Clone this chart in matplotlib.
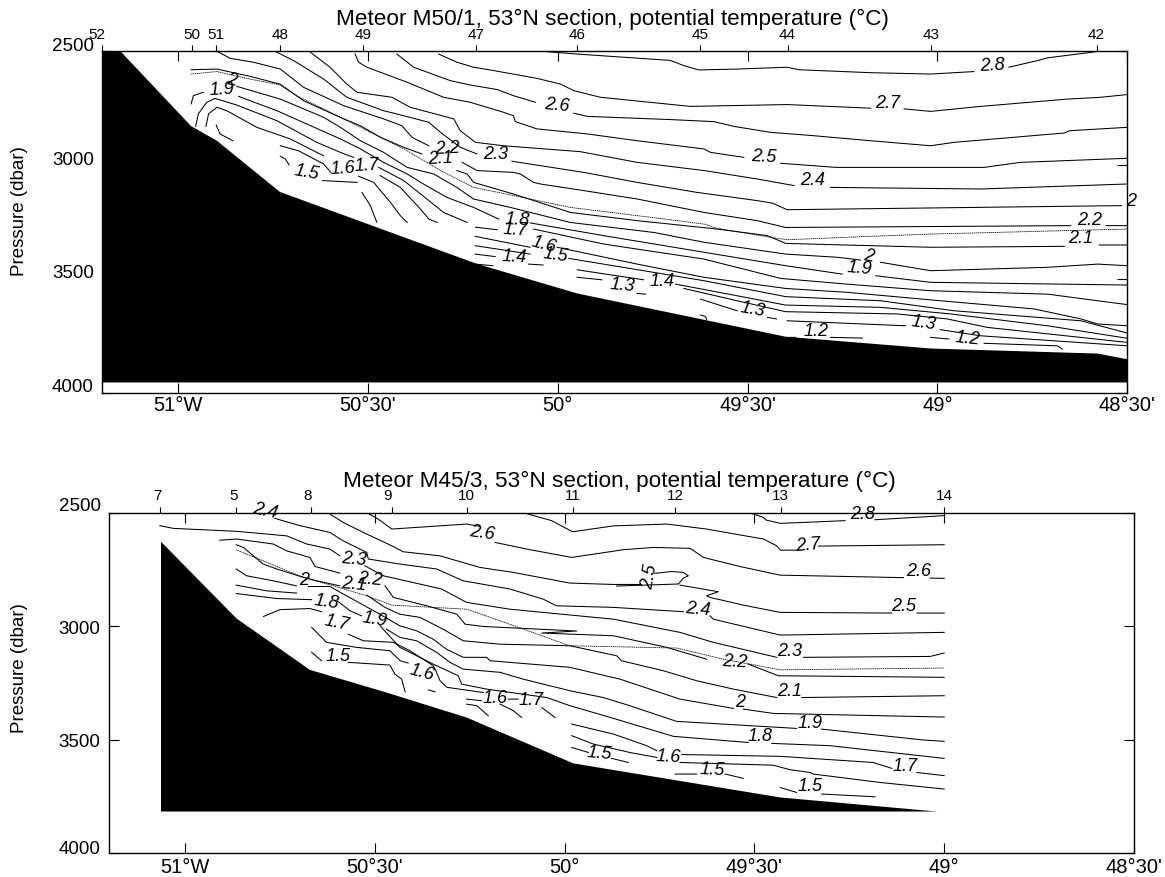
import matplotlib
matplotlib.use("Agg")
import matplotlib.pyplot as plt
import matplotlib.transforms as mtrans
import numpy as np

plt.rcParams["font.family"] = ["Liberation Sans", "DejaVu Sans"]

nan = np.nan

lon_ticks = [-51, -50.5, -50, -49.5, -49, -48.5]
lon_labels = ["51°W", "50°30'", "50°", "49°30'", "49°", "48°30'"]
p_ticks = [2500, 3000, 3500, 4000]

# Meteor M50/1 section
m50_station_lon = [-51.2, -50.965, -50.9, -50.732, -50.512, -50.215, -49.949, -49.625, -49.395, -49.016, -48.581]
m50_station_no = ["52", "50", "51", "48", "49", "47", "46", "45", "44", "43", "42"]
m50_bottom_lon = [-51.2, -51.152, -50.966, -50.899, -50.732, -50.215, -49.949, -49.4, -49.016, -48.579, -48.5, -48.5, -51.2]
m50_bottom_p = [2500, 2500, 2829, 2892, 3118, 3433, 3564, 3754, 3806, 3828, 3853, 3955, 3955]

m50_28_lon = [-50.033, -49.95, -49.704, -49.668, -49.629, -49.528, -49.396, -49.365, -49.176, -49.018, -48.904, nan, -48.812, -48.737, -48.711, -48.579]
m50_28_p = [2501, 2512, 2540, 2563, 2582, 2578, 2570, 2581, 2594, 2600, 2589, nan, 2570, 2541, 2529, 2501]
m50_27_lon = [-50.314, -50.266, -50.222, -50.178, -50.055, -49.993, -49.958, -49.888, -49.651, -49.396, -49.176, nan, -49.088, -49.018, -48.886, -48.658, -48.57, -48.5]
m50_27_p = [2512, 2548, 2570, 2582, 2619, 2644, 2673, 2702, 2742, 2734, 2750, nan, 2753, 2764, 2742, 2710, 2702, 2690]
m50_26_lon = [-50.424, -50.38, -50.283, -50.231, -50.16, -50.117, -50.059, nan, -49.958, -49.923, -49.703, -49.589, -49.536, -49.440, -49.325, -49.176, -49.018, -48.956, -48.666, -48.653, -48.5]
m50_26_p = [2512, 2570, 2629, 2648, 2668, 2695, 2724, nan, 2772, 2786, 2800, 2809, 2830, 2856, 2871, 2893, 2915, 2900, 2859, 2849, 2834]
m50_25_lon = [-50.534, -50.525, -50.503, -50.397, -50.301, -50.231, -50.143, -50.117, -50.112, -50.055, -49.923, -49.791, -49.615, -49.598, -49.51, nan, -49.413, -49.268, -48.877, -48.781, -48.5]
m50_25_p = [2512, 2548, 2570, 2636, 2702, 2724, 2768, 2783, 2809, 2841, 2863, 2893, 2929, 2944, 2966, nan, 2992, 3010, 3010, 2988, 2970]
m50_24_lon = [-50.652, -50.6, -50.556, -50.529, -50.437, -50.389, -50.274, -50.257, -50.217, -50.143, -49.941, -49.791, -49.615, -49.475, -49.378, nan, -49.282, -48.886, -48.5]
m50_24_p = [2504, 2570, 2644, 2680, 2702, 2746, 2797, 2849, 2900, 2915, 2941, 2988, 3024, 3061, 3090, nan, 3098, 3105, 3083]
m50_23_lon = [-50.745, -50.696, -50.617, -50.556, -50.459, -50.406, -50.34, -50.309, -50.257, -50.213, nan, -50.121, -49.932, -49.791, -49.633, -49.475, -49.435, -49.396, -48.515]
m50_23_p = [2500, 2541, 2622, 2702, 2761, 2783, 2812, 2856, 2922, 2951, nan, 2983, 3032, 3076, 3120, 3156, 3167, 3196, 3178]
m50_22_lon = [-50.898, -50.863, -50.802, -50.731, -50.67, -50.564, -50.459, -50.411, -50.384, -50.34, nan, -50.252, -50.213, -50.117, -50.099, -50.064, -50.046, -49.932, -49.791, -49.615, -49.475, -49.4, -48.649, nan, -48.556, -48.5]
m50_22_p = [2500, 2531, 2548, 2578, 2658, 2739, 2797, 2827, 2878, 2915, nan, 2988, 3024, 3032, 3039, 3076, 3083, 3112, 3149, 3208, 3244, 3274, 3266, nan, 3266, 3266]
m50_dash_lon = [-50.966, -50.898, -50.811, -50.732, -50.688, -50.564, -50.485, -50.397, -50.309, -50.222, -50.125, -49.967, -49.791, -49.615, -49.58, -49.44, -49.396, -49.176, -49.018, -48.5]
m50_dash_p = [2600, 2589, 2622, 2648, 2695, 2797, 2863, 2937, 3024, 3098, 3131, 3186, 3222, 3259, 3278, 3317, 3328, 3313, 3303, 3281]
m50_21_lon = [-50.966, -50.898, -50.811, -50.732, -50.67, -50.564, -50.52, -50.467, -50.406, -50.358, nan, -50.266, -50.239, -50.222, -50.117, -49.967, -49.791, -49.58, -49.448, -49.4, -49.018, -48.666, nan, -48.574, -48.5]
m50_21_p = [2581, 2578, 2610, 2644, 2717, 2797, 2827, 2878, 2922, 2951, nan, 3024, 3039, 3076, 3127, 3208, 3244, 3281, 3310, 3344, 3361, 3357, nan, 3351, 3351]
m50_20_lon = [-50.846, -50.731, -50.617, -50.573, -50.52, -50.459, -50.397, -50.327, -50.266, -50.222, -50.125, -49.967, -49.747, -49.615, -49.4, -49.264, -49.203, nan, -49.15, -49.018, -48.71, -48.578, -48.5]
m50_20_p = [2654, 2710, 2790, 2834, 2893, 2944, 3010, 3039, 3098, 3149, 3186, 3252, 3296, 3339, 3391, 3405, 3417, nan, 3427, 3464, 3449, 3435, 3442]
m50_19_lon = [-50.966, -50.96, -50.934, nan, -50.841, -50.74, -50.573, -50.52, -50.459, -50.397, -50.354, -50.292, -50.222, -50.156, nan, -50.073, -49.879, -49.615, -49.4, -49.251, nan, -49.163, -49.018, -48.5]
m50_19_p = [2731, 2695, 2680, nan, 2698, 2761, 2885, 2929, 2988, 3039, 3083, 3142, 3186, 3237, nan, 3254, 3310, 3383, 3442, 3479, nan, 3486, 3515, 3527]
m50_18_lon = [-50.954, -50.947, -50.925, -50.903, -50.846, -50.74, -50.635, -50.573, -50.538, nan, -50.472, -50.406, -50.345, -50.301, -50.239, nan, -50.064, -49.879, -49.615, -49.413, -49.238, -49.018, -48.71, -48.578, -48.5]
m50_18_p = [2830, 2775, 2724, 2707, 2736, 2805, 2900, 2944, 2966, nan, 3010, 3068, 3149, 3208, 3252, nan, 3281, 3347, 3413, 3498, 3523, 3552, 3567, 3596, 3613]
m50_17_lon = [-50.927, -50.92, -50.898, -50.872, -50.793, -50.705, -50.617, nan, -50.468, -50.415, -50.362, -50.34, -50.318, nan, -50.217, -50.16, nan, -50.002, -49.791, -49.615, -49.4, -49.238, -48.992, -48.745, -48.622, -48.578, -48.5]
m50_17_p = [2830, 2775, 2746, 2761, 2834, 2885, 2959, nan, 3046, 3098, 3193, 3237, 3252, nan, 3273, 3284, nan, 3361, 3435, 3493, 3542, 3559, 3596, 3632, 3676, 3698, 3706]
m50_16_lon = [-50.9, -50.89, -50.856, nan, -50.731, -50.683, -50.617, -50.598, nan, -50.525, -50.485, -50.441, -50.415, -50.397, nan, -50.218, -50.073, nan, -49.971, -49.774, -49.615, -49.4, -49.15, -48.956, -48.622, -48.5]
m50_16_p = [2824, 2863, 2893, nan, 2915, 2937, 2995, 3032, nan, 3049, 3076, 3164, 3222, 3252, nan, 3313, 3361, nan, 3410, 3464, 3508, 3578, 3596, 3640, 3684, 3738]
m50_15_lon = [-50.731, -50.718, -50.708, nan, -50.62, -50.529, nan, -50.516, -50.494, -50.477, nan, -50.218, -50.073, nan, -49.949, -49.774, nan, -49.69, -49.528, -49.4, -49.15, -48.965, -48.71, -48.5]
m50_15_p = [2961, 2973, 2999, nan, 3068, 3076, nan, 3120, 3178, 3251, nan, 3354, 3391, nan, 3460, 3504, nan, 3523, 3574, 3615, 3625, 3654, 3706, 3761]
m50_14_lon = [-50.218, -50.165, nan, -50.077, -50.039, nan, -49.668, -49.528, -49.4, -49.106, -48.974, -48.869, -48.5]
m50_14_p = [3391, 3402, nan, 3435, 3439, nan, 3542, 3596, 3644, 3654, 3676, 3713, 3779]
m50_13_lon = [-50.218, -50.171, nan, -49.949, -49.884, nan, -49.791, -49.769, nan, -49.624, -49.528, nan, -49.448, -49.424, nan, -49.396, -49.084, nan, -48.993, -48.886, -48.5]
m50_13_p = [3435, 3442, nan, 3493, 3504, nan, 3564, 3567, nan, 3589, 3640, nan, 3669, 3676, nan, 3684, 3706, nan, 3723, 3750, 3794]
m50_12_lon = [-49.391, -49.374, nan, -49.282, -49.198, nan, -49.018, -48.97, nan, -48.877, -48.684, -48.671, nan, -49.624, -49.611, -49.608]
m50_12_p = [3757, 3757, nan, 3757, 3760, nan, 3757, 3764, nan, 3783, 3794, 3808, nan, 3659, 3665, 3679]

m50_label_text = ["2", "1.9", "1.5", "1.6", "1.7", "2.2", "2.1", "2.3", "2.6", "1.8", "1.7", "1.6", "1.5", "1.4", "1.3", "1.4", "1.3", "1.2", "2.5", "2.4", "2.8", "2.7", "2", "2.2", "2.1", "2", "1.9", "1.3", "1.2"]
m50_label_lon = [-50.859, -50.885, -50.661, -50.567, -50.503, -50.292, -50.31, -50.165, -50.002, -50.108, -50.112, -50.037, -50.007, -50.116, -49.831, -49.725, -49.488, -49.321, -49.457, -49.33, -48.855, -49.132, -48.489, -48.6, -48.622, -49.181, -49.205, -49.036, -48.921]
m50_label_p = [2622, 2666, 3027, 3010, 2998, 2925, 2969, 2951, 2734, 3237, 3281, 3347, 3391, 3398, 3523, 3508, 3632, 3728, 2961, 3065, 2560, 2724, 3156, 3240, 3320, 3398, 3449, 3691, 3758]
m50_label_rot = [-10, 3, -10, 3, 3, 3, 3, 0, -5, -3, -3, -15, -8, -3, -5, 0, -10, 0, -3, 0, 3, 0, 0, 0, 0, -10, -5, -8, -6]

# Meteor M45/3 section
m45_station_lon = [-51.065, -50.865, -50.668, -50.455, -50.258, -49.979, -49.708, -49.431, -49.0]
m45_station_no = ["7", "5", "8", "9", "10", "11", "12", "13", "14"]
m45_bottom_lon = [-51.063, -50.864, -50.671, -50.469, -50.258, -49.977, -49.432, -49.02, -51.063]
m45_bottom_p = [2628, 2966, 3192, 3292, 3402, 3604, 3754, 3816, 3816]

m45_28_lon = [-49.512, -49.476, -49.468, -49.431, -49.261, nan, -49.182, -49.0]
m45_28_p = [2500, 2521, 2533, 2547, 2535, nan, 2531, 2513]
m45_27_lon = [-50.109, -50.034, -49.979, -49.871, -49.731, -49.626, -49.476, -49.441, -49.431, -49.38, nan, -49.331, -49.0]
m45_27_p = [2500, 2535, 2584, 2558, 2550, 2572, 2616, 2646, 2665, 2665, nan, 2647, 2641]
m45_26_lon = [-50.521, -50.491, -50.455, -50.258, -50.223, nan, -50.183, -50.091, -49.981, -49.845, -49.766, -49.669, -49.634, -49.538, -49.432, -49.107, nan, -49.037, -49.0]
m45_26_p = [2500, 2528, 2572, 2550, 2560, nan, 2631, 2663, 2697, 2663, 2653, 2657, 2697, 2737, 2775, 2786, nan, 2788, 2789]
m45_25_lon = [-50.618, -50.583, -50.53, -50.455, -50.425, -50.328, -50.223, -50.135, -49.986, -49.872, -49.801, nan, -49.762, -49.718, -49.687, -49.674, -49.687, -49.7, -49.863, nan, -49.696, -49.661, -49.595, -49.626, -49.617, -49.529, -49.432, -49.138, nan, -49.072, -49.0]
m45_25_p = [2506, 2543, 2587, 2646, 2672, 2690, 2741, 2763, 2810, 2816, 2816, nan, 2767, 2759, 2763, 2778, 2788, 2814, 2823, nan, 2819, 2829, 2848, 2866, 2873, 2907, 2939, 2942, nan, 2942, 2942]
m45_24_lon = [-50.763, -50.697, -50.618, -50.583, -50.521, -50.517, -50.434, -50.337, -50.267, -50.144, -50.056, -50.021, -49.871, -49.687, nan, -49.617, -49.608, -49.432, -49.0]
m45_24_p = [2525, 2557, 2587, 2624, 2675, 2704, 2726, 2748, 2800, 2836, 2881, 2910, 2917, 2936, nan, 2954, 2969, 3039, 3027]
m45_23_lon = [-51.066, -51.031, -50.864, -50.732, -50.679, -50.618, -50.592, nan, -50.526, -50.477, -50.324, -50.258, -50.144, -49.871, -49.696, -49.608, -49.441, nan, -49.371, -49.037, -49.0]
m45_23_p = [2557, 2569, 2582, 2602, 2638, 2660, 2690, nan, 2734, 2778, 2836, 2895, 2925, 2969, 3027, 3071, 3137, nan, 3137, 3133, 3118]
m45_22_lon = [-50.908, -50.864, -50.767, -50.732, -50.671, -50.657, -50.592, nan, -50.473, -50.451, -50.363, -50.284, -50.262, -50.214, -49.968, -50.06, -49.871, -49.731, -49.626, nan, -49.516, -49.437, -49.0]
m45_22_p = [2621, 2616, 2638, 2668, 2697, 2737, 2766, nan, 2822, 2873, 2910, 2947, 2991, 3001, 3021, 3030, 3042, 3093, 3145, nan, 3167, 3218, 3225]
m45_dash_lon = [-50.865, -50.794, -50.688, -50.609, -50.521, -50.455, -50.258, -50.17, -49.986, -49.705, -49.582, -49.432, -49.0]
m45_dash_p = [2663, 2712, 2785, 2822, 2866, 2907, 2925, 2976, 3086, 3096, 3145, 3192, 3184]
m45_21_lon = [-50.865, -50.846, -50.794, -50.758, -50.701, -50.653, -50.592, nan, -50.521, -50.473, -50.434, -50.381, -50.32, -50.267, -50.17, -49.986, -49.863, -49.85, -49.74, -49.652, -49.555, -49.441, nan, -49.375, -49.0]
m45_21_p = [2641, 2653, 2726, 2748, 2778, 2800, 2822, nan, 2863, 2917, 2947, 2961, 3013, 3064, 3079, 3086, 3130, 3152, 3196, 3240, 3277, 3314, nan, 3314, 3306]
m45_20_lon = [-50.865, -50.837, -50.767, -50.706, nan, -50.675, -50.618, -50.583, -50.495, -50.434, -50.39, -50.346, -50.311, -50.267, -50.205, -50.196, -49.986, -49.854, -49.696, -49.555, nan, -49.529, -49.45, -49.0]
m45_20_p = [2748, 2778, 2800, 2822, nan, 2825, 2825, 2858, 2939, 2998, 3020, 3057, 3101, 3137, 3137, 3152, 3181, 3233, 3321, 3362, nan, 3365, 3384, 3400]
m45_19_lon = [-50.865, -50.785, -50.706, nan, -50.469, -50.434, -50.39, -50.337, -50.302, -50.267, -50.17, -50.109, -49.986, -49.898, -49.828, -49.705, -49.389, nan, -49.323, -49.055, -49.0]
m45_19_p = [2819, 2844, 2854, nan, 3013, 3049, 3064, 3115, 3159, 3189, 3203, 3233, 3284, 3314, 3350, 3419, 3450, nan, 3453, 3501, 3507]
m45_18_lon = [-50.865, -50.758, -50.666, nan, -50.599, -50.565, -50.535, nan, -50.486, -50.434, -50.398, -50.346, -50.28, -50.271, -50.205, -50.047, -49.986, -49.889, -49.713, -49.516, nan, -49.454, -49.301, -49.0]
m45_18_p = [2856, 2878, 2883, nan, 2888, 2932, 2954, nan, 2998, 3093, 3123, 3167, 3218, 3255, 3277, 3314, 3350, 3397, 3485, 3512, nan, 3516, 3526, 3582]
m45_17_lon = [-50.793, -50.75, -50.671, -50.64, nan, -50.57, -50.53, -50.451, -50.407, -50.346, -50.341, -50.328, -50.31, -50.214, nan, -50.148, -50.122, nan, -50.06, -50.025, nan, -49.981, -49.871, -49.784, -49.757, nan, -49.691, -49.432, -49.187, -49.138, nan, -49.072, -49.0]
m45_17_p = [2957, 2927, 2922, 2936, nan, 3035, 3064, 3071, 3108, 3174, 3189, 3240, 3269, 3292, nan, 3321, 3321, nan, 3358, 3402, nan, 3431, 3475, 3526, 3548, nan, 3565, 3573, 3600, 3626, nan, 3644, 3658]
m45_16_lon = [-50.666, -50.627, -50.548, -50.46, -50.433, -50.412, nan, -50.359, -50.341, nan, -50.258, -50.219, nan, -50.17, -50.135, -50.113, nan, -50.258, -50.231, -50.201, nan, -49.981, -49.924, -49.828, -49.757, nan, -49.696, -49.45, -49.406, -49.353, -49.345, -49.169, -49.0]
m45_16_p = [3005, 3071, 3093, 3108, 3152, 3162, nan, 3280, 3289, nan, 3321, 3328, nan, 3343, 3372, 3402, nan, 3343, 3350, 3394, nan, 3482, 3519, 3556, 3578, nan, 3600, 3612, 3632, 3644, 3651, 3688, 3717]
m45_15_lon = [-50.666, -50.64, nan, -50.57, -50.46, -50.447, -50.429, -50.42, nan, -49.981, -49.937, nan, -49.876, -49.832, nan, -49.709, -49.652, nan, -49.577, -49.529, nan, -49.432, -49.389, nan, -49.323, -49.182]
m45_15_p = [3115, 3152, nan, 3159, 3171, 3211, 3233, 3289, nan, 3534, 3556, nan, 3582, 3600, nan, 3651, 3651, nan, 3651, 3670, nan, 3710, 3732, nan, 3739, 3751]

m45_label_text = ["2.4", "2.3", "2.2", "2.1", "2", "1.8", "1.9", "1.7", "1.5", "1.6", "2.6", "1.6", "1.7", "2.5", "2.4", "2.3", "2.2", "2.1", "2", "1.9", "1.8", "1.5", "1.6", "1.5", "1.5", "2.8", "2.7", "2.6", "2.5", "1.7"]
m45_label_lon = [-50.789, -50.555, -50.513, -50.556, -50.686, -50.627, -50.499, -50.6, -50.596, -50.376, -50.217, -50.183, -50.089, -49.775, -49.648, -49.406, -49.551, -49.406, -49.538, -49.354, -49.485, -49.907, -49.727, -49.612, -49.354, -49.216, -49.358, -49.068, -49.106, -49.103]
m45_label_p = [2489, 2700, 2789, 2814, 2792, 2891, 2969, 2983, 3127, 3203, 2587, 3316, 3321, 2778, 2922, 3105, 3156, 3284, 3333, 3424, 3482, 3556, 3570, 3629, 3703, 2503, 2638, 2756, 2910, 3612]
m45_label_rot = [-12, -5, -5, -5, 0, -8, -10, -12, 0, -15, -8, 0, 0, 80, -5, 0, -3, 0, 0, 0, 0, -5, -3, -3, 0, 0, 5, 0, 0, 0]


def draw_section(ax, title, bottom_lon, bottom_p, lines, dash, labels, station_lon, station_no, station_dx, p_dy, lon_pad):
    ax.fill(bottom_lon, bottom_p, color="black", lw=0, zorder=1)
    for lon, p in lines:
        ax.plot(lon, p, color="black", lw=0.75, zorder=2)
    ax.plot(dash[0], dash[1], color="black", lw=0.6, ls=(0, (1.5, 0.8)), zorder=2)
    for text, lon, p, rot in zip(*labels):
        ax.text(lon, p, text, fontsize=13, style="italic", ha="center", va="center", rotation=rot, zorder=3)

    ax.set_xlim(-51.2, -48.5)
    ax.set_ylim(4000, 2500)
    ax.set_xticks(lon_ticks, lon_labels)
    ax.set_yticks(p_ticks, [str(v) for v in p_ticks])
    ax.tick_params(axis="x", direction="in", length=7.5, width=0.8, top=True, labelsize=14.5, pad=lon_pad)
    ax.tick_params(axis="y", direction="in", length=7.5, width=0.8, right=True, labelsize=13.5, pad=6)
    for lab, dy in zip(ax.get_yticklabels(), p_dy):
        lab.set_transform(lab.get_transform() + mtrans.ScaledTranslation(0, dy / 100, ax.figure.dpi_scale_trans))
    for s in ax.spines.values():
        s.set_linewidth(1.0)
        s.set_zorder(4)

    top = ax.secondary_xaxis("top")
    top.set_xticks(station_lon, station_no)
    top.tick_params(direction="out", length=4, width=0.8, labelsize=11, pad=3.5)
    top.spines["top"].set_visible(False)
    for lab, dx in zip(top.get_xticklabels(), station_dx):
        lab.set_transform(lab.get_transform() + mtrans.ScaledTranslation(dx / 100, 0, ax.figure.dpi_scale_trans))

    ax.set_title(title, fontsize=16.2, y=1.0, pad=19.5, x=0.498)
    ax.set_ylabel("Pressure (dbar)", fontsize=13.5)


fig = plt.figure(figsize=(11.65, 8.78), dpi=100)
ax1 = fig.add_axes([102.3 / 1165, (878 - 393.7) / 878, 1025 / 1165, 341.4 / 878])
ax2 = fig.add_axes([109 / 1165, (878 - 854.3) / 878, 1025 / 1165, 340.6 / 878])

m50_lines = [
    (m50_28_lon, m50_28_p), (m50_27_lon, m50_27_p), (m50_26_lon, m50_26_p), (m50_25_lon, m50_25_p),
    (m50_24_lon, m50_24_p), (m50_23_lon, m50_23_p), (m50_22_lon, m50_22_p), (m50_21_lon, m50_21_p),
    (m50_20_lon, m50_20_p), (m50_19_lon, m50_19_p), (m50_18_lon, m50_18_p), (m50_17_lon, m50_17_p),
    (m50_16_lon, m50_16_p), (m50_15_lon, m50_15_p), (m50_14_lon, m50_14_p), (m50_13_lon, m50_13_p),
    (m50_12_lon, m50_12_p),
]
m45_lines = [
    (m45_28_lon, m45_28_p), (m45_27_lon, m45_27_p), (m45_26_lon, m45_26_p), (m45_25_lon, m45_25_p),
    (m45_24_lon, m45_24_p), (m45_23_lon, m45_23_p), (m45_22_lon, m45_22_p), (m45_21_lon, m45_21_p),
    (m45_20_lon, m45_20_p), (m45_19_lon, m45_19_p), (m45_18_lon, m45_18_p), (m45_17_lon, m45_17_p),
    (m45_16_lon, m45_16_p), (m45_15_lon, m45_15_p),
]

draw_section(
    ax1, "Meteor M50/1, 53°N section, potential temperature (°C)",
    m50_bottom_lon, m50_bottom_p, m50_lines, (m50_dash_lon, m50_dash_p),
    (m50_label_text, m50_label_lon, m50_label_p, m50_label_rot),
    m50_station_lon, m50_station_no, [-5, 0, 0, 0, 0, 0, 0, 0, 0, 0, 0], [8, 8, 8, 8], 1.5,
)
draw_section(
    ax2, "Meteor M45/3, 53°N section, potential temperature (°C)",
    m45_bottom_lon, m45_bottom_p, m45_lines, (m45_dash_lon, m45_dash_p),
    (m45_label_text, m45_label_lon, m45_label_p, m45_label_rot),
    m45_station_lon, m45_station_no, [-3, -3, -3, -4, 0, 0, 0, 0, 0], [9, 0, 0, 7], 3,
)
ax1.yaxis.set_label_coords(-0.0725, 0.535)
ax2.yaxis.set_label_coords(-0.079, 0.547)

fig.savefig("out.png", dpi=100)
